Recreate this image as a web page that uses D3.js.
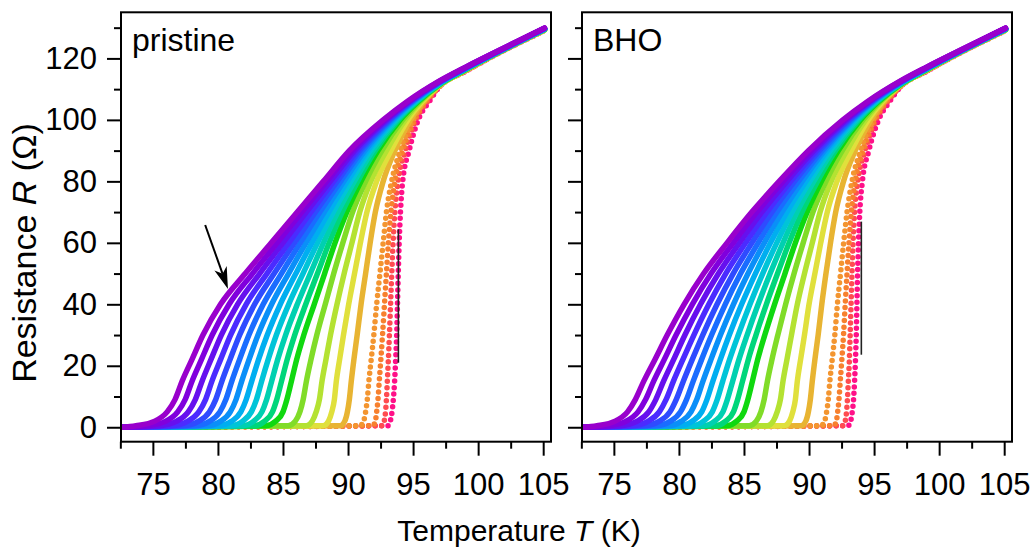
<!DOCTYPE html>
<html>
<head>
<meta charset="utf-8">
<script src="https://cdnjs.cloudflare.com/ajax/libs/d3/7.8.5/d3.min.js"></script>
<style>
body { margin: 0; background: #fff; }
svg text { font-family: "Liberation Sans", Arial, sans-serif; fill: #000; }
</style>
</head>
<body>
<svg id="svg" width="1036" height="554"></svg>
<script>
// resistance levels (Ohm) at which the temperature of each curve was read
var rLevels = [0.5, 2, 5, 9, 15, 22, 30, 40, 50, 60, 70, 80, 90, 100, 106];
// normal state part, same temperatures for every curve
var tailT = [97, 99, 101.5, 105.1];
var startT = 72.6;

var curveColors = ["#9900cc", "#8000dd", "#6610ee", "#4b2bff", "#2f4bff", "#1a6cff", "#0a8ff8",
                   "#00aef0", "#00c4d8", "#00d0b0", "#00d67a", "#10d810", "#80dc28", "#b4e232",
                   "#e0e03c", "#e8b432", "#f39530", "#f7802e", "#ff4c50", "#ff1088"];
var dottedFrom = 16;

// T (K) of each curve at rLevels, pristine film
var pristineT = [
    [73.7, 75.15, 76.1, 76.7, 77.25, 78.0, 78.85, 80.2, 82.1, 84.1, 86.1, 88.1, 90.1, 92.7, 94.55],
    [74.61, 76.0, 76.91, 77.48, 78.01, 78.73, 79.56, 80.86, 82.66, 84.55, 86.45, 88.36, 90.30, 92.82, 94.63],
    [75.52, 76.84, 77.72, 78.26, 78.78, 79.46, 80.26, 81.51, 83.21, 84.99, 86.79, 88.63, 90.50, 92.94, 94.70],
    [76.43, 77.69, 78.53, 79.05, 79.54, 80.20, 80.97, 82.17, 83.77, 85.44, 87.14, 88.89, 90.70, 93.05, 94.78],
    [77.34, 78.53, 79.34, 79.83, 80.31, 80.93, 81.67, 82.82, 84.32, 85.88, 87.48, 89.16, 90.90, 93.17, 94.86],
    [78.25, 79.38, 80.15, 80.61, 81.07, 81.66, 82.38, 83.48, 84.88, 86.33, 87.83, 89.42, 91.10, 93.29, 94.94],
    [79.15, 80.22, 80.95, 81.39, 81.83, 82.39, 83.08, 84.13, 85.43, 86.77, 88.17, 89.68, 91.30, 93.41, 95.01],
    [80.06, 81.07, 81.76, 82.17, 82.60, 83.12, 83.79, 84.79, 85.99, 87.22, 88.52, 89.95, 91.50, 93.53, 95.09],
    [80.97, 81.91, 82.57, 82.96, 83.36, 83.86, 84.49, 85.44, 86.54, 87.66, 88.86, 90.21, 91.70, 93.64, 95.17],
    [81.88, 82.76, 83.38, 83.74, 84.13, 84.59, 85.20, 86.10, 87.10, 88.11, 89.21, 90.48, 91.90, 93.76, 95.24],
    [82.79, 83.6, 84.19, 84.52, 84.89, 85.32, 85.90, 86.75, 87.65, 88.55, 89.55, 90.74, 92.10, 93.88, 95.32],
    [83.7, 84.45, 85.0, 85.3, 85.65, 86.05, 86.6, 87.4, 88.2, 89.0, 89.9, 91.0, 92.3, 94.0, 95.4],
    [85.4, 85.95, 86.3, 86.55, 86.8, 87.15, 87.6, 88.25, 88.9, 89.6, 90.35, 91.35, 92.6, 94.2, 95.5],
    [86.8, 87.25, 87.55, 87.8, 88.0, 88.3, 88.65, 89.15, 89.7, 90.3, 90.9, 91.75, 92.95, 94.4, 95.6],
    [88.1, 88.5, 88.75, 88.95, 89.1, 89.35, 89.65, 90.05, 90.5, 90.95, 91.45, 92.2, 93.3, 94.6, 95.7],
    [89.4, 89.75, 89.95, 90.1, 90.25, 90.45, 90.7, 91.0, 91.35, 91.7, 92.1, 92.7, 93.6, 94.8, 95.8],
    [90.9, 91.2, 91.35, 91.48, 91.6, 91.78, 91.98, 92.2, 92.45, 92.7, 92.95, 93.35, 94.0, 95.0, 95.9],
    [91.9, 92.1, 92.2, 92.3, 92.4, 92.52, 92.65, 92.8, 92.95, 93.1, 93.3, 93.6, 94.2, 95.1, 96.0],
    [92.6, 92.78, 92.88, 92.95, 93.02, 93.1, 93.18, 93.27, 93.36, 93.46, 93.6, 93.85, 94.4, 95.2, 96.1],
    [93.05, 93.25, 93.38, 93.48, 93.58, 93.66, 93.74, 93.8, 93.86, 93.93, 94.03, 94.2, 94.7, 95.4, 96.25]
];

// T (K) of each curve at rLevels, BHO film
var bhoT = [
    [73.7, 75.1, 76.05, 76.65, 77.3, 78.15, 79.1, 80.4, 81.9, 83.7, 85.6, 87.7, 89.95, 92.6, 94.5],
    [74.61, 75.95, 76.86, 77.44, 78.06, 78.87, 79.78, 81.03, 82.47, 84.18, 85.99, 88.00, 90.16, 92.72, 94.58],
    [75.52, 76.8, 77.68, 78.22, 78.82, 79.59, 80.46, 81.66, 83.04, 84.65, 86.37, 88.29, 90.37, 92.85, 94.65],
    [76.43, 77.65, 78.49, 79.01, 79.58, 80.30, 81.15, 82.30, 83.60, 85.13, 86.76, 88.59, 90.58, 92.97, 94.73],
    [77.34, 78.5, 79.31, 79.79, 80.34, 81.02, 81.83, 82.93, 84.17, 85.61, 87.14, 88.88, 90.79, 93.09, 94.81],
    [78.25, 79.35, 80.12, 80.58, 81.10, 81.74, 82.51, 83.56, 84.74, 86.09, 87.53, 89.18, 91.00, 93.22, 94.89],
    [79.15, 80.2, 80.93, 81.37, 81.85, 82.46, 83.19, 84.19, 85.31, 86.56, 87.92, 89.47, 91.20, 93.34, 94.96],
    [80.06, 81.05, 81.75, 82.15, 82.61, 83.18, 83.87, 84.82, 85.88, 87.04, 88.30, 89.77, 91.41, 93.46, 95.04],
    [80.97, 81.9, 82.56, 82.94, 83.37, 83.89, 84.56, 85.46, 86.44, 87.52, 88.69, 90.06, 91.62, 93.58, 95.12],
    [81.88, 82.75, 83.38, 83.72, 84.13, 84.61, 85.24, 86.09, 87.01, 88.00, 89.07, 90.36, 91.83, 93.71, 95.19],
    [82.79, 83.6, 84.19, 84.51, 84.89, 85.33, 85.92, 86.72, 87.58, 88.47, 89.46, 90.65, 92.04, 93.83, 95.27],
    [83.7, 84.45, 85.0, 85.3, 85.65, 86.05, 86.6, 87.35, 88.15, 88.95, 89.85, 90.95, 92.25, 93.95, 95.35],
    [85.4, 85.95, 86.3, 86.55, 86.8, 87.15, 87.6, 88.2, 88.85, 89.55, 90.3, 91.3, 92.55, 94.15, 95.45],
    [86.8, 87.25, 87.55, 87.8, 88.0, 88.3, 88.65, 89.1, 89.65, 90.25, 90.85, 91.7, 92.9, 94.35, 95.55],
    [88.1, 88.5, 88.75, 88.95, 89.1, 89.35, 89.65, 90.0, 90.45, 90.9, 91.4, 92.15, 93.25, 94.55, 95.65],
    [89.4, 89.75, 89.95, 90.1, 90.25, 90.45, 90.7, 90.98, 91.3, 91.65, 92.05, 92.65, 93.55, 94.75, 95.75],
    [90.9, 91.2, 91.35, 91.48, 91.6, 91.78, 91.98, 92.18, 92.42, 92.66, 92.92, 93.3, 93.95, 94.95, 95.85],
    [91.9, 92.1, 92.2, 92.3, 92.4, 92.52, 92.65, 92.78, 92.92, 93.07, 93.25, 93.55, 94.15, 95.05, 95.95],
    [92.6, 92.78, 92.88, 92.95, 93.02, 93.1, 93.16, 93.23, 93.3, 93.38, 93.5, 93.75, 94.3, 95.15, 96.05],
    [93.0, 93.2, 93.32, 93.42, 93.5, 93.57, 93.63, 93.68, 93.73, 93.8, 93.9, 94.1, 94.6, 95.35, 96.2]
];

// R (Ohm) at tailT for each curve
var normalTail = [
    [112.6, 117.1, 122.4, 129.9], [112.5, 117.0, 122.35, 129.85], [112.4, 116.95, 122.3, 129.8],
    [112.3, 116.9, 122.25, 129.75], [112.2, 116.8, 122.2, 129.7], [112.1, 116.7, 122.15, 129.65],
    [112.0, 116.65, 122.1, 129.6], [111.9, 116.6, 122.05, 129.55], [111.8, 116.5, 122.0, 129.5],
    [111.65, 116.45, 121.95, 129.45], [111.55, 116.35, 121.9, 129.45], [111.45, 116.3, 121.9, 129.4],
    [111.35, 116.2, 121.85, 129.35], [111.25, 116.15, 121.8, 129.3], [111.15, 116.05, 121.75, 129.25],
    [111.05, 116.0, 121.7, 129.2], [110.95, 115.9, 121.65, 129.15], [110.8, 115.85, 121.6, 129.1],
    [110.7, 115.75, 121.55, 129.05], [110.6, 115.7, 121.5, 129.0]
];

var xTicks = [75, 80, 85, 90, 95, 100, 105];
var xMinor = [72.5, 77.5, 82.5, 87.5, 92.5, 97.5, 102.5];
var yTicks = [0, 20, 40, 60, 80, 100, 120];
var yMinor = [10, 30, 50, 70, 90, 110, 130];

var panelNames = ["pristine", "BHO"];
var markerT = [93.87, 94.02];
var markerR = [[21, 64.4], [23.6, 66.9]];
var arrowFrom = [79.02, 65.8];
var arrowTo = [80.77, 45];

var svg = d3.select("#svg");
var y = d3.scaleLinear().domain([-4.7, 135]).range([441.7, 12.3]);
var panelW = 430;

function curvePoints(row, tail) {
    var pts = [[startT, 0]];
    row.forEach(function(t, i) { pts.push([t, rLevels[i]]); });
    tailT.forEach(function(t, i) { pts.push([t, tail[i]]); });
    return pts;
}

function styleAxis(g) {
    g.select(".domain").remove();
    g.attr("font-size", 31).attr("font-family", "'Liberation Sans', Arial, sans-serif");
    g.selectAll("line").attr("stroke", "#000").attr("stroke-width", 2);
}

function drawPanel(idx, left, rows) {
    var x = d3.scaleLinear().domain([72.55, 105.6]).range([left, left + panelW]);
    var g = svg.append("g");

    svg.append("clipPath").attr("id", "clip" + idx)
        .append("rect").attr("x", left).attr("y", y.range()[1])
        .attr("width", panelW).attr("height", y.range()[0] - y.range()[1]);

    var line = d3.line()
        .x(function(d) { return x(d[0]); })
        .y(function(d) { return y(d[1]); })
        .curve(d3.curveMonotoneX);

    var curves = g.append("g").attr("clip-path", "url(#clip" + idx + ")");
    for (var i = rows.length - 1; i >= 0; i--) {
        curves.append("path")
            .datum(curvePoints(rows[i], normalTail[i]))
            .attr("d", line)
            .attr("fill", "none")
            .attr("stroke", curveColors[i])
            .attr("stroke-width", 5.5)
            .attr("stroke-linecap", "round")
            .attr("stroke-linejoin", "round")
            .attr("stroke-dasharray", i >= dottedFrom ? "0 6.5" : null);
    }

    g.append("line")
        .attr("x1", x(markerT[idx])).attr("x2", x(markerT[idx]))
        .attr("y1", y(markerR[idx][0])).attr("y2", y(markerR[idx][1]))
        .attr("stroke", "#222").attr("stroke-width", 1.6);

    // ticks
    g.append("g").attr("transform", "translate(0," + y.range()[0] + ")")
        .call(d3.axisBottom(x).tickValues(xTicks).tickSize(14).tickPadding(17).tickFormat(d3.format("d")))
        .call(styleAxis);
    g.append("g").attr("transform", "translate(0," + y.range()[0] + ")")
        .call(d3.axisBottom(x).tickValues(xMinor).tickSize(7).tickFormat(""))
        .call(styleAxis);
    g.append("g").attr("transform", "translate(" + left + ",0)")
        .call(d3.axisLeft(y).tickValues(yTicks).tickSize(14).tickPadding(10)
              .tickFormat(idx === 0 ? d3.format("d") : ""))
        .call(styleAxis);
    g.append("g").attr("transform", "translate(" + left + ",0)")
        .call(d3.axisLeft(y).tickValues(yMinor).tickSize(7).tickFormat(""))
        .call(styleAxis);

    g.append("rect")
        .attr("x", left).attr("y", y.range()[1])
        .attr("width", panelW).attr("height", y.range()[0] - y.range()[1])
        .attr("fill", "none").attr("stroke", "#000").attr("stroke-width", 2);

    g.append("text").attr("x", left + 11).attr("y", 51)
        .attr("font-size", 32).text(panelNames[idx]);

    return x;
}

function drawArrow(x) {
    var x0 = x(arrowFrom[0]), y0 = y(arrowFrom[1]);
    var x1 = x(arrowTo[0]), y1 = y(arrowTo[1]);
    var len = Math.hypot(x1 - x0, y1 - y0);
    var ux = (x1 - x0) / len, uy = (y1 - y0) / len;
    var nx = -uy, ny = ux;
    var hl = 22, hw = 6.5, notch = 16;
    svg.append("line")
        .attr("x1", x0).attr("y1", y0)
        .attr("x2", x1 - ux * notch).attr("y2", y1 - uy * notch)
        .attr("stroke", "#000").attr("stroke-width", 2);
    var head = [
        [x1, y1],
        [x1 - ux * hl + nx * hw, y1 - uy * hl + ny * hw],
        [x1 - ux * notch, y1 - uy * notch],
        [x1 - ux * hl - nx * hw, y1 - uy * hl - ny * hw]
    ];
    svg.append("path").attr("d", "M" + head.join("L") + "Z").attr("fill", "#000");
}

var xLeft = drawPanel(0, 121, pristineT);
drawPanel(1, 582, bhoT);
drawArrow(xLeft);

// axis titles
var yt = svg.append("text")
    .attr("transform", "translate(36,253) rotate(-90)")
    .attr("text-anchor", "middle")
    .attr("font-size", 34);
yt.append("tspan").text("Resistance ");
yt.append("tspan").attr("font-style", "italic").text("R");
yt.append("tspan").text(" (\u03A9)");

var xt = svg.append("text")
    .attr("x", 519).attr("y", 541)
    .attr("text-anchor", "middle")
    .attr("font-size", 30);
xt.append("tspan").text("Temperature ");
xt.append("tspan").attr("font-style", "italic").text("T");
xt.append("tspan").text(" (K)");
</script>
</body>
</html>
